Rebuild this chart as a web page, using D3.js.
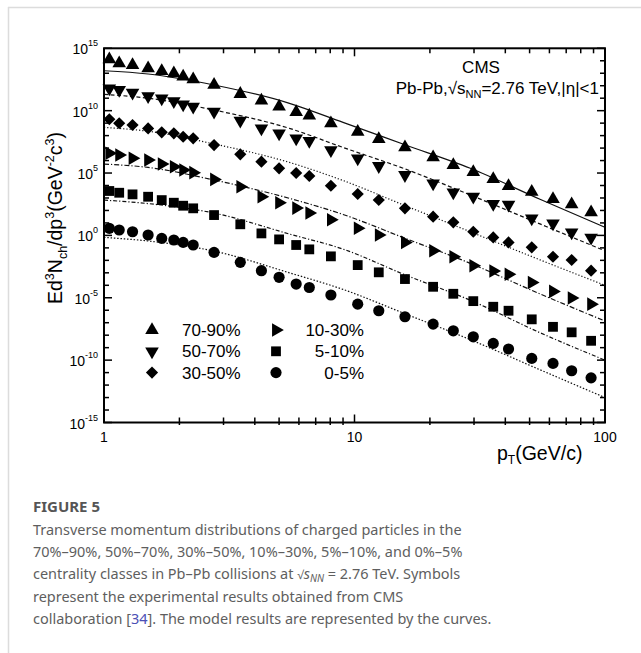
<!DOCTYPE html>
<html>
<head>
<meta charset="utf-8">
<script src="https://cdn.jsdelivr.net/npm/d3@7"></script>
<style>
  body { margin: 0; background: #fff; }
</style>
</head>
<body>
<svg id="chart" width="641" height="653" font-family="'Liberation Sans', Arial, Helvetica, sans-serif"></svg>
<script>
// pT bin positions (GeV/c), shared by all centrality classes
const pT = [1.05, 1.15, 1.3, 1.5, 1.7, 1.9, 2.07, 2.27, 2.75, 3.5, 4.25, 5.0, 5.85, 6.6, 8.05,
            10.3, 12.5, 15.9, 20.6, 24.8, 29.8, 35.8, 41.2, 51, 62, 73.6, 88];

// log10 of the (scaled) yields
const cent7090 = [14.12, 13.80, 13.66, 13.40, 13.18, 13.00, 12.73, 12.52, 12.07, 11.34, 10.80, 10.32, 9.89, 9.60,
                  8.99, 8.31, 7.73, 7.06, 6.26, 5.64, 5.08, 4.52, 3.96, 3.50, 2.92, 2.49, 1.85];
const cent5070 = [11.79, 11.66, 11.44, 11.17, 10.99, 10.77, 10.51, 10.32, 9.92, 9.19, 8.58, 8.18, 7.78, 7.57,
                  6.84, 6.18, 5.56, 4.84, 4.17, 3.45, 3.10, 2.52, 2.47, 1.37, 0.97, 0.24, -0.19];
const cent3050 = [9.31, 8.99, 8.85, 8.58, 8.26, 8.18, 7.91, 7.78, 7.24, 6.50, 5.91, 5.38, 5.00, 4.76,
                  3.98, 3.32, 2.84, 2.17, 1.50, 1.05, 0.29, -0.16, -0.56, -0.96, -1.71, -1.97, -2.83];
const cent1030 = [6.58, 6.44, 6.18, 6.04, 5.72, 5.51, 5.24, 5.03, 4.49, 3.90, 3.10, 2.62, 2.19, 1.79,
                  1.26, 0.57, 0.03, -0.56, -1.23, -1.71, -2.43, -2.86, -3.12, -3.78, -4.49, -5.02, -5.51];
const cent0510 = [3.56, 3.42, 3.29, 3.10, 2.83, 2.62, 2.38, 2.17, 1.63, 0.89, 0.16, -0.32, -0.77, -1.12,
                  -1.68, -2.38, -2.96, -3.50, -4.12, -4.68, -5.27, -5.72, -6.04, -6.73, -7.33, -7.77, -8.45];
const cent0005 = [0.57, 0.43, 0.29, 0.03, -0.24, -0.37, -0.56, -0.77, -1.36, -2.16, -2.83, -3.36, -3.90, -4.18,
                  -4.78, -5.51, -6.04, -6.52, -7.11, -7.65, -8.13, -8.66, -9.11, -9.86, -10.26, -10.85, -11.42];

// model curves, log10 values read at a common pT grid
const fitPT = [1, 1.5, 2.75, 5.5, 9, 16, 29, 55, 100];
const fit7090 = [13.20, 12.94, 12.06, 10.59, 9.06, 7.25, 5.38, 2.90, 0.65];
const fit5070 = [11.31, 11.00, 10.05, 8.58, 7.05, 5.31, 3.24, 0.92, -1.24];
const fit3050 = [8.66, 8.35, 7.33, 5.85, 4.40, 2.37, 0.29, -1.96, -4.00];
const fit1030 = [5.72, 5.45, 4.44, 2.97, 1.68, -0.25, -2.24, -4.69, -6.86];
const fit0510 = [2.83, 2.55, 1.79, 0.11, -1.10, -3.18, -5.20, -7.80, -10.00];
const fit0005 = [-0.16, -0.45, -1.26, -3.00, -4.33, -6.30, -8.36, -10.77, -13.00];

const labels = ["70-90%", "50-70%", "30-50%", "10-30%", "5-10%", "0-5%"];
const yExps = [15, 10, 5, 0, -5, -10, -15];
const xTickVals = [1, 10, 100];

const series = [
  { label: labels[0], vals: cent7090, fit: fit7090, shape: "up",      dash: null },
  { label: labels[1], vals: cent5070, fit: fit5070, shape: "down",    dash: "4,2.5" },
  { label: labels[2], vals: cent3050, fit: fit3050, shape: "diamond", dash: "1.2,2" },
  { label: labels[3], vals: cent1030, fit: fit1030, shape: "right",   dash: "5,2,1.2,2" },
  { label: labels[4], vals: cent0510, fit: fit0510, shape: "square",  dash: "4,2,1.2,2" },
  { label: labels[5], vals: cent0005, fit: fit0005, shape: "circle",  dash: "1.5,1.8" }
];

const svg = d3.select("#chart");

// frame of the page card
svg.append("line").attr("x1", 8).attr("x2", 641).attr("y1", 7.5).attr("y2", 7.5)
  .attr("stroke", "#dcdcdc").attr("stroke-width", 1.5);
svg.append("line").attr("x1", 8.5).attr("x2", 8.5).attr("y1", 7).attr("y2", 653)
  .attr("stroke", "#dcdcdc").attr("stroke-width", 1.5);

const L = 104, R = 605, T = 48.3, B = 422.5;
const x = d3.scaleLog().domain([1, 100]).range([L, R]);
const y = d3.scaleLog().domain([1e-15, 1e15]).range([B, T]);
const yl = v => y(Math.pow(10, v));

svg.append("defs").append("clipPath").attr("id", "plot")
  .append("rect").attr("x", L).attr("y", T).attr("width", R - L).attr("height", B - T);

// model curves
const line = d3.line().x(d => x(d[0])).y(d => yl(d[1])).curve(d3.curveMonotoneX);
const gCurves = svg.append("g").attr("clip-path", "url(#plot)");
series.forEach(s => {
  gCurves.append("path")
    .attr("d", line(fitPT.map((p, i) => [p, s.fit[i]])))
    .attr("fill", "none").attr("stroke", "#111").attr("stroke-width", 1.2)
    .attr("stroke-dasharray", s.dash);
});

// marker shapes
function marker(g, shape) {
  let sym = d3.symbolTriangle, size = 80, rot = 0;
  if (shape === "down") rot = 180;
  if (shape === "right") rot = 90;
  if (shape === "circle") { sym = d3.symbolCircle; size = 98; }
  if (shape === "square") { sym = d3.symbolSquare; size = 96; }
  if (shape === "diamond") { sym = d3.symbolSquare; size = 74; rot = 45; }
  g.append("path").attr("d", d3.symbol().type(sym).size(size)()).attr("fill", "#000");
  return rot;
}

series.forEach(s => {
  s.vals.forEach((v, i) => {
    const g = svg.append("g");
    const rot = marker(g, s.shape);
    g.attr("transform", `translate(${x(pT[i])},${yl(v)}) rotate(${rot})`);
  });
});

// axes frame
svg.append("rect").attr("x", L).attr("y", T).attr("width", R - L).attr("height", B - T)
  .attr("fill", "none").attr("stroke", "#000").attr("stroke-width", 2);

// y ticks, every decade, both sides
const gTicks = svg.append("g").attr("stroke", "#000").attr("stroke-width", 1.5);
d3.range(-15, 16).forEach(e => {
  const len = e % 5 === 0 ? 8 : 5;
  const yy = yl(e);
  gTicks.append("line").attr("x1", L).attr("x2", L + len).attr("y1", yy).attr("y2", yy);
  gTicks.append("line").attr("x1", R).attr("x2", R - len).attr("y1", yy).attr("y2", yy);
});
// x ticks, top and bottom
const xMinor = [2, 3, 4, 5, 6, 7, 8, 9, 20, 30, 40, 50, 60, 70, 80, 90];
xMinor.forEach(v => {
  const xx = x(v);
  gTicks.append("line").attr("x1", xx).attr("x2", xx).attr("y1", B + 2.5).attr("y2", B - 5);
  gTicks.append("line").attr("x1", xx).attr("x2", xx).attr("y1", T).attr("y2", T + 5);
});
gTicks.append("line").attr("x1", x(10)).attr("x2", x(10)).attr("y1", B).attr("y2", B - 8);
gTicks.append("line").attr("x1", x(10)).attr("x2", x(10)).attr("y1", T).attr("y2", T + 8);

// tick labels
yExps.forEach(e => {
  const t = svg.append("text").attr("x", 98).attr("y", yl(e) + 6)
    .attr("text-anchor", "end").attr("font-size", 14).attr("fill", "#000");
  t.append("tspan").text("10");
  t.append("tspan").attr("dy", -8).attr("font-size", 9).text(e);
});
xTickVals.forEach(v => {
  svg.append("text").attr("x", x(v)).attr("y", 442).attr("text-anchor", "middle")
    .attr("font-size", 14).text(v);
});

// axis titles
const xt = svg.append("text").attr("x", 497).attr("y", 460).attr("font-size", 19.5);
xt.append("tspan").text("p");
xt.append("tspan").attr("dy", 4).attr("font-size", 12).text("T");
xt.append("tspan").attr("dy", -4).text("(GeV/c)");

const yt = svg.append("text").attr("transform", "translate(62,218) rotate(-90)")
  .attr("text-anchor", "middle").attr("font-size", 19.5);
[["Ed", 0], ["3", -1], ["N", 1], ["ch", 2], ["/dp", 1], ["3", -1], ["(GeV", 1], ["-2", -1], ["c", 1], ["3", -1], [")", 1]]
  .reduce((prev, [txt, kind]) => {
    // kind: 0 normal start, -1 superscript, 2 subscript, 1 back to normal
    const sp = yt.append("tspan").text(txt);
    const level = kind === -1 ? -8 : kind === 2 ? 4.5 : 0;
    sp.attr("dy", level - prev);
    if (kind === -1 || kind === 2) sp.attr("font-size", 12.5);
    return level;
  }, 0);

// CMS labels
svg.append("text").attr("x", 481).attr("y", 72.7).attr("text-anchor", "middle")
  .attr("font-size", 17).text("CMS");
const sub = svg.append("text").attr("x", 599).attr("y", 94).attr("text-anchor", "end").attr("font-size", 17);
sub.append("tspan").text("Pb-Pb,\u221As");
sub.append("tspan").attr("dy", 4).attr("font-size", 11).text("NN");
sub.append("tspan").attr("dy", -4).text("=2.76 TeV,|\u03B7|<1");

// legend
const legRows = [330, 351.3, 372.6];
series.forEach((s, i) => {
  const col = Math.floor(i / 3), row = i % 3;
  const g = svg.append("g");
  const rot = marker(g, s.shape);
  g.attr("transform", `translate(${col === 0 ? 152 : 276},${legRows[row]}) rotate(${rot})`);
  svg.append("text")
    .attr("x", col === 0 ? 182 : 364).attr("y", legRows[row] + 6)
    .attr("text-anchor", col === 0 ? "start" : "end")
    .attr("font-size", 17).text(s.label);
});

// caption
const capFont = '"Noto Sans", "Open Sans", sans-serif';
svg.append("text").attr("x", 33).attr("y", 511.5).attr("font-family", capFont)
  .attr("font-weight", "bold").attr("font-size", 15).attr("fill", "#555").text("FIGURE 5");

const capLines = [
  [["Transverse momentum distributions of charged particles in the"]],
  [["70%\u201390%, 50%\u201370%, 30%\u201350%, 10%\u201330%, 5%\u201310%, and 0%\u20135%"]],
  [["centrality classes in Pb\u2013Pb collisions at "], ["\u221A", "rad"], ["s", "it"], ["NN", "sub"], [" = 2.76 TeV. Symbols", "back"]],
  [["represent the experimental results obtained from CMS"]],
  [["collaboration ["], ["34", "link"], ["]. The model results are represented by the curves."]]
];
const capG = svg.append("g").attr("font-family", capFont).attr("fill", "#5e5e5e");
const capTexts = capLines.map((parts, i) => {
  const t = capG.append("text").attr("x", 33).attr("y", 535 + i * 22.2).attr("font-size", 16);
  parts.forEach(([txt, kind]) => {
    const sp = t.append("tspan").text(txt);
    if (kind === "it") sp.attr("font-style", "italic");
    if (kind === "sub") sp.attr("font-style", "italic").attr("font-size", 11).attr("dy", 3);
    if (kind === "back") sp.attr("dy", -3);
    if (kind === "link") sp.attr("fill", "#4b4fb5");
    if (kind === "rad") sp.attr("font-size", 13);
  });
  return t;
});
// fit the caption font to the measured width of the first line
const w0 = capTexts[0].node().getComputedTextLength();
const fs = 16 * 429 / w0;
capTexts.forEach(t => {
  t.attr("font-size", fs);
  t.selectAll("tspan").each(function () {
    const el = d3.select(this);
    if (el.attr("font-size")) el.attr("font-size", +el.attr("font-size") * fs / 16);
  });
});
</script>
</body>
</html>
